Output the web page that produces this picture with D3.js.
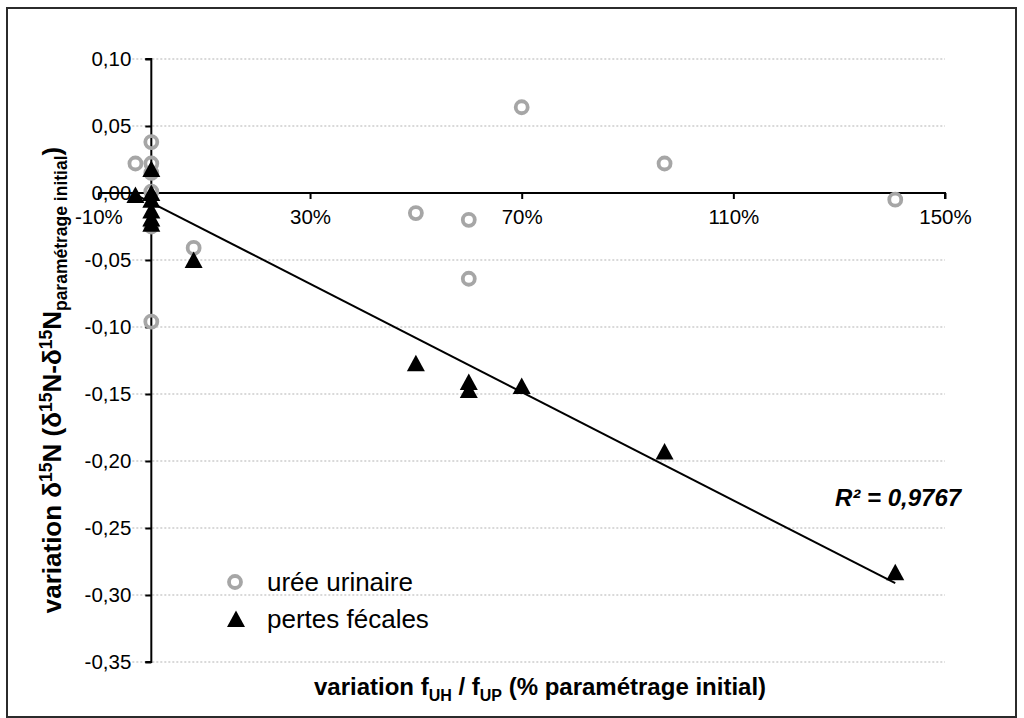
<!DOCTYPE html>
<html><head><meta charset="utf-8">
<script src="https://cdn.jsdelivr.net/npm/d3@7"></script>
<style>
html,body{margin:0;padding:0;background:#fff;}
svg{display:block;font-family:"Liberation Sans",Arial,sans-serif;}
</style></head>
<body>
<svg id="chart" width="1024" height="718"></svg>
<script>
// ---- data ----
const xTicks = [-10, 30, 70, 110, 150];
const yTicks = [0.10, 0.05, 0.00, -0.05, -0.10, -0.15, -0.20, -0.25, -0.30, -0.35];

const ureeX = [-3, 0, 0, 0, 0, 0, 0, 8, 50, 60, 60, 70, 97, 140.6];
const ureeY = [0.022, 0.038, 0.022, 0.015, 0.001, -0.025, -0.096, -0.041, -0.015, -0.020, -0.064, 0.064, 0.022, -0.005];

const pertesX = [-3, 0, 0, 0, 0, 0, 0, 8, 50, 60, 60, 70, 97, 140.6];
const pertesY = [-0.0015, 0.018, 0.000, -0.005, -0.013, -0.019, -0.023, -0.050, -0.127, -0.141, -0.147, -0.144, -0.193, -0.283];

const trendSlope = -0.00202;
const trendIntercept = -0.0072;
const r2Label = "R² = 0,9767";
const seriesNames = ["urée urinaire", "pertes fécales"];

// ---- layout ----
const svg = d3.select("#chart");
const plot = {left: 98.4, right: 945, top: 59, bottom: 662};
const x = d3.scaleLinear().domain([-10, 150]).range([plot.left, plot.right]);
const y = d3.scaleLinear().domain([0.10, -0.35]).range([plot.top, plot.bottom]);
const fmtY = d => d.toFixed(2).replace(".", ",");
const fmtX = d => d + "%";

// outer frame
svg.append("rect").attr("x", 7).attr("y", 8).attr("width", 1009).attr("height", 709)
  .attr("fill", "none").attr("stroke", "#2b2b2b").attr("stroke-width", 2);

const x0 = x(0), y0 = y(0);

// gridlines
svg.append("g").selectAll("line").data(yTicks.filter(d => d !== 0)).join("line")
  .attr("x1", x0 - 19).attr("x2", plot.right)
  .attr("y1", d => y(d)).attr("y2", d => y(d))
  .attr("stroke", "#b3b3b3").attr("stroke-width", 1).attr("stroke-dasharray", "2,2");

// y axis
const yAxis = d3.axisLeft(y).tickValues(yTicks).tickFormat(fmtY).tickSize(6).tickPadding(14);
const gy = svg.append("g").attr("transform", `translate(${x0},0)`).call(yAxis);
gy.select(".domain").attr("stroke", "#000").attr("stroke-width", 2).attr("d", `M-6,${y(0.10)}H0V${y(-0.35)}H-6`);
gy.selectAll(".tick line").attr("stroke", "#000").attr("stroke-width", 2);
gy.selectAll(".tick text").attr("font-size", 20.5).attr("fill", "#000")
  .attr("font-family", '"Liberation Sans",Arial,sans-serif');

// x axis
const xAxis = d3.axisBottom(x).tickValues(xTicks).tickFormat(fmtX).tickSize(6).tickPadding(10);
const gx = svg.append("g").attr("transform", `translate(0,${y0})`).call(xAxis);
gx.select(".domain").attr("stroke", "#000").attr("stroke-width", 2).attr("d", `M${plot.left},0H${plot.right}V6`);
gx.selectAll(".tick line").attr("stroke", "#000").attr("stroke-width", 2);
gx.selectAll(".tick text").attr("font-size", 20.5).attr("fill", "#000")
  .attr("font-family", '"Liberation Sans",Arial,sans-serif');

// trend line
const tx = d3.extent(pertesX);
svg.append("line")
  .attr("x1", x(tx[0])).attr("y1", y(trendIntercept + trendSlope * tx[0]))
  .attr("x2", x(tx[1])).attr("y2", y(trendIntercept + trendSlope * tx[1]))
  .attr("stroke", "#000").attr("stroke-width", 2);

// markers
const triPath = "M0,-8.5L9,8L-9,8Z";
const uree = ureeX.map((v, i) => ({x: v, y: ureeY[i]}));
const pertes = pertesX.map((v, i) => ({x: v, y: pertesY[i]}));

svg.append("g").selectAll("circle").data(uree).join("circle")
  .attr("cx", d => x(d.x)).attr("cy", d => y(d.y)).attr("r", 6)
  .attr("fill", "none").attr("stroke", "#a6a6a6").attr("stroke-width", 3.8);

svg.append("g").selectAll("path").data(pertes).join("path")
  .attr("d", triPath).attr("transform", d => `translate(${x(d.x)},${y(d.y)})`)
  .attr("fill", "#000");

// R² label
svg.append("text").attr("x", 835).attr("y", 506)
  .attr("font-size", 24).attr("font-weight", "bold").attr("font-style", "italic")
  .text(r2Label);

// legend
const lg = svg.append("g");
lg.append("circle").attr("cx", 235).attr("cy", 582).attr("r", 6)
  .attr("fill", "none").attr("stroke", "#a6a6a6").attr("stroke-width", 3.8);
lg.append("text").attr("x", 267).attr("y", 591).attr("font-size", 26).text(seriesNames[0]);
lg.append("path").attr("d", triPath).attr("transform", "translate(236,619)").attr("fill", "#000");
lg.append("text").attr("x", 267).attr("y", 628).attr("font-size", 26).text(seriesNames[1]);

// x title
const xt = svg.append("text").attr("x", 540).attr("y", 695).attr("text-anchor", "middle")
  .attr("font-size", 24).attr("font-weight", "bold");
xt.append("tspan").text("variation f");
xt.append("tspan").attr("dy", 6).attr("font-size", 16).text("UH");
xt.append("tspan").attr("dy", -6).text(" / f");
xt.append("tspan").attr("dy", 6).attr("font-size", 16).text("UP");
xt.append("tspan").attr("dy", -6).text(" (% paramétrage initial)");

// y title
const yt = svg.append("text").attr("transform", "translate(61,380) rotate(-90)")
  .attr("text-anchor", "middle").attr("font-size", 26).attr("font-weight", "bold");
yt.append("tspan").text("variation δ");
yt.append("tspan").attr("dy", -9).attr("font-size", 17.5).text("15");
yt.append("tspan").attr("dy", 9).text("N (δ");
yt.append("tspan").attr("dy", -9).attr("font-size", 17.5).text("15");
yt.append("tspan").attr("dy", 9).text("N-δ");
yt.append("tspan").attr("dy", -9).attr("font-size", 17.5).text("15");
yt.append("tspan").attr("dy", 9).text("N");
yt.append("tspan").attr("dy", 6).attr("font-size", 17.5).text("paramétrage initial");
yt.append("tspan").attr("dy", -6).text(")");
</script>
</body></html>
